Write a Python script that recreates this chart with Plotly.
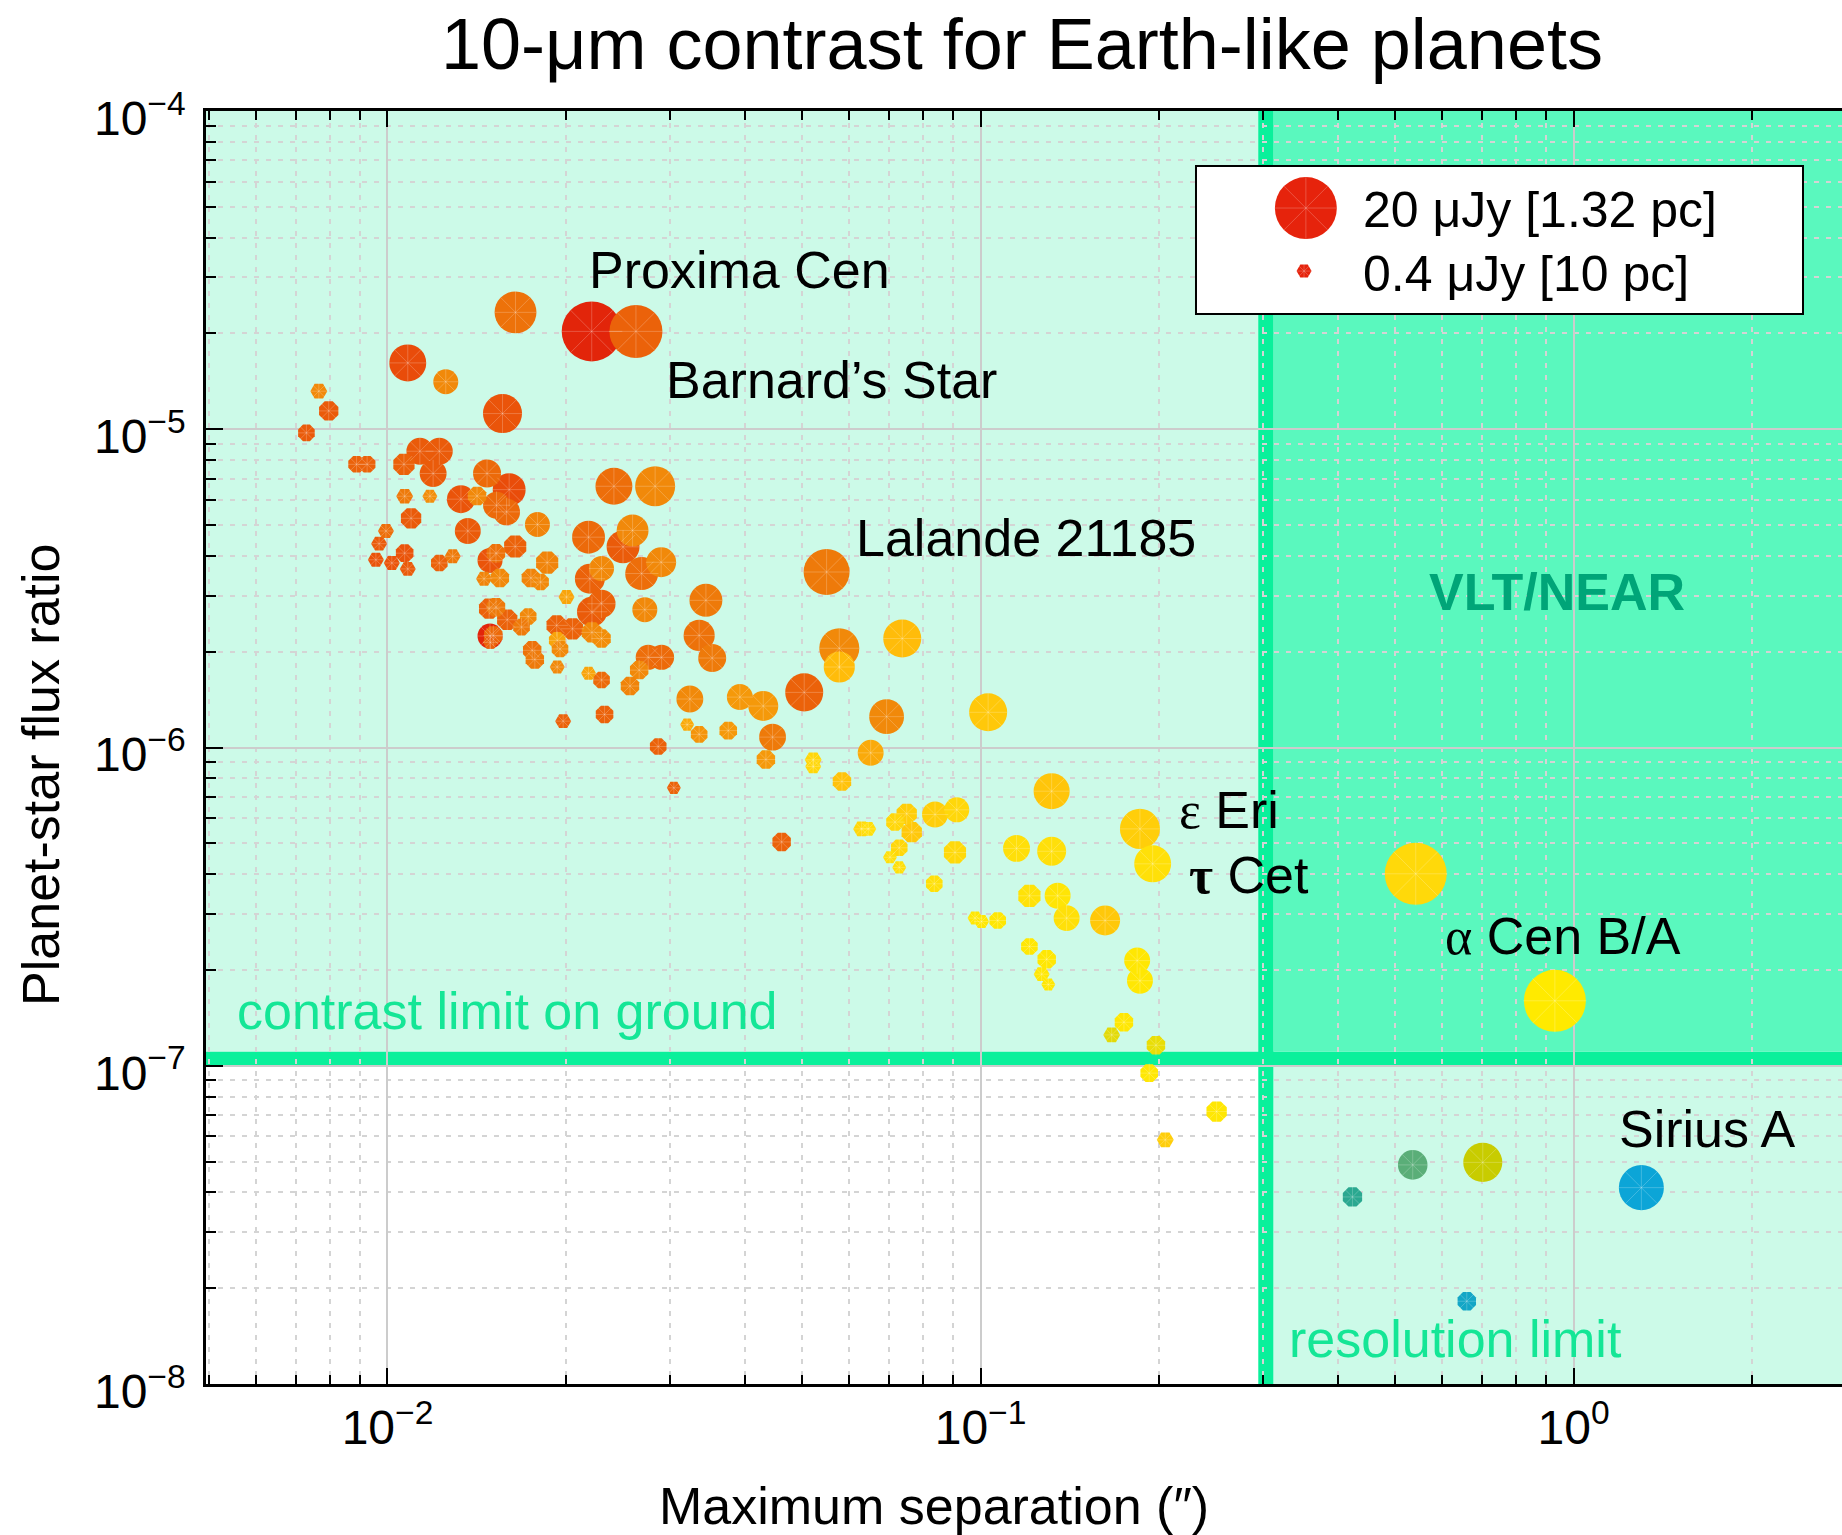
import numpy as np
import plotly.graph_objects as go

# ---------------------------------------------------------------------------
# Nearby stars: maximum separation of a habitable-zone Earth analogue (arcsec),
# planet/star flux ratio at 10 micron, planet flux density (microjansky) and
# stellar effective temperature (K, sets marker colour).
# ---------------------------------------------------------------------------
separation = [
    0.01644, 0.0221, 0.02624, 0.01082, 0.01254, 0.01563, 0.00766, 0.00796, 0.0073, 0.00887,
    0.00924, 0.01066, 0.01134, 0.01223, 0.01194, 0.01472, 0.01604, 0.01527, 0.01588, 0.0133,
    0.01416, 0.01069, 0.01179, 0.01096, 0.01366, 0.0179, 0.00994, 0.00968, 0.00956, 0.01017,
    0.01069, 0.01082, 0.01223, 0.01288, 0.01642, 0.01489, 0.01524, 0.01455, 0.01547, 0.01859,
    0.01745, 0.01812, 0.02004, 0.02183, 0.02496, 0.0259, 0.02409, 0.02827, 0.02894, 0.02683,
    0.02194, 0.02296, 0.02212, 0.02296, 0.01929, 0.02051, 0.02212, 0.02296, 0.01489, 0.01508,
    0.01484, 0.01524, 0.01592, 0.01683, 0.01727, 0.01491, 0.01754, 0.01772, 0.01933, 0.01954,
    0.01933, 0.02183, 0.02296, 0.02564, 0.02657, 0.02752, 0.02899, 0.01978, 0.02323, 0.05501,
    0.03443, 0.03354, 0.03528, 0.05779, 0.05779, 0.07379, 0.05043, 0.03235, 0.03928, 0.04302,
    0.06944, 0.1030, 0.03201, 0.03354, 0.03755, 0.02861, 0.0446, 0.04346, 0.06528, 0.05222,
    0.05222, 0.05839, 0.0304, 0.1318, 0.07508, 0.07174, 0.07656, 0.08381, 0.09119, 0.06302,
    0.06466, 0.0462, 0.07293, 0.07035, 0.07293, 0.09056, 0.1150, 0.1318, 0.08356, 0.1209,
    0.1349, 0.1397, 0.0979, 0.1004, 0.1069, 0.1209, 0.1293, 0.1268, 0.1301, 0.1857,
    0.1951, 0.1622, 0.1837, 0.1857, 0.1745, 0.1664, 0.1976, 0.1925, 0.2501, 0.2049,
    0.5418, 0.930, 0.4238, 0.5355, 0.7029, 1.301, 0.6606, 0.02716,
]
flux_ratio = [
    2.33e-5, 2.03e-5, 2.03e-5, 1.616e-5, 1.41e-5, 1.12e-5, 1.317e-5, 1.142e-5, 9.74e-6, 7.76e-6,
    7.76e-6, 7.76e-6, 8.53e-6, 8.53e-6, 7.26e-6, 7.26e-6, 6.46e-6, 5.77e-6, 5.5e-6, 6.03e-6,
    6.17e-6, 6.16e-6, 6.16e-6, 5.25e-6, 4.79e-6, 5.02e-6, 4.79e-6, 4.37e-6, 3.89e-6, 3.80e-6,
    4.08e-6, 3.64e-6, 3.80e-6, 3.99e-6, 4.28e-6, 3.87e-6, 4.08e-6, 3.39e-6, 3.41e-6, 3.81e-6,
    3.41e-6, 3.31e-6, 2.97e-6, 4.58e-6, 4.27e-6, 4.81e-6, 6.62e-6, 6.62e-6, 3.82e-6, 3.52e-6,
    3.39e-6, 3.65e-6, 2.67e-6, 2.83e-6, 2.42e-6, 2.36e-6, 2.30e-6, 2.20e-6, 2.24e-6, 2.25e-6,
    2.73e-6, 2.76e-6, 2.52e-6, 2.39e-6, 2.58e-6, 2.14e-6, 2.02e-6, 1.89e-6, 2.17e-6, 2.04e-6,
    1.79e-6, 1.71e-6, 1.63e-6, 1.56e-6, 1.75e-6, 1.92e-6, 1.92e-6, 1.21e-6, 1.27e-6, 3.56e-6,
    2.90e-6, 2.25e-6, 1.91e-6, 2.05e-6, 1.79e-6, 2.20e-6, 1.49e-6, 1.42e-6, 1.44e-6, 1.35e-6,
    1.25e-6, 1.29e-6, 1.18e-6, 1.10e-6, 1.13e-6, 1.007e-6, 1.078e-6, 9.17e-7, 9.62e-7, 9.15e-7,
    8.72e-7, 7.82e-7, 7.47e-7, 7.29e-7, 6.19e-7, 5.83e-7, 5.42e-7, 6.16e-7, 6.37e-7, 5.55e-7,
    5.55e-7, 5.05e-7, 4.84e-7, 4.52e-7, 4.20e-7, 4.68e-7, 4.82e-7, 4.72e-7, 3.73e-7, 3.42e-7,
    3.42e-7, 2.91e-7, 2.91e-7, 2.84e-7, 2.86e-7, 2.37e-7, 2.16e-7, 1.94e-7, 1.80e-7, 5.55e-7,
    4.31e-7, 2.86e-7, 2.14e-7, 1.85e-7, 1.37e-7, 1.25e-7, 1.16e-7, 9.48e-8, 7.18e-8, 5.85e-8,
    4.01e-7, 1.60e-7, 3.87e-8, 4.88e-8, 4.97e-8, 4.14e-8, 1.82e-8, 2.71e-6,
]
planet_flux = [
    6.8, 18.3, 13.0, 4.8, 1.64, 5.6, 0.56, 1.0, 0.66, 0.66,
    0.66, 1.3, 2.0, 2.0, 2.0, 2.24, 3.5, 2.0, 2.0, 2.24,
    0.88, 0.56, 0.4, 1.15, 1.82, 1.64, 0.48, 0.48, 0.48, 0.48,
    0.77, 0.48, 0.66, 0.48, 1.46, 1.64, 0.88, 0.48, 0.88, 1.46,
    0.88, 0.66, 0.48, 3.5, 3.5, 3.2, 4.8, 6.0, 2.7, 3.5,
    2.7, 1.64, 2.7, 2.24, 1.15, 1.3, 1.15, 0.88, 1.64, 0.88,
    1.15, 0.88, 1.15, 0.66, 0.66, 0.4, 0.88, 0.88, 0.66, 0.66,
    0.4, 0.4, 0.66, 0.88, 0.88, 1.64, 1.64, 0.48, 0.77, 8.8,
    3.5, 3.0, 2.24, 6.0, 3.0, 5.2, 5.2, 2.0, 1.82, 2.7,
    4.1, 5.2, 0.33, 0.66, 0.77, 0.66, 2.0, 0.88, 1.82, 0.56,
    0.48, 0.88, 0.33, 4.5, 1.15, 0.77, 1.15, 1.82, 1.64, 0.56,
    0.48, 0.88, 0.66, 0.33, 0.33, 1.46, 2.0, 2.46, 0.66, 1.46,
    1.82, 1.82, 0.4, 0.4, 0.66, 0.66, 0.88, 0.48, 0.33, 6.0,
    4.8, 2.7, 1.82, 1.82, 0.88, 0.56, 0.88, 0.77, 1.15, 0.56,
    20.0, 20.0, 1.0, 2.6, 5.6, 8.3, 0.88, 1.64,
]
t_eff = [
    3500, 2950, 3300, 3150, 3900, 3200, 3900, 3250, 3250, 3300,
    3300, 3300, 3250, 3250, 3250, 3400, 3150, 3400, 3400, 3200,
    3900, 3600, 4000, 3250, 3250, 3800, 3450, 3250, 3200, 3200,
    3200, 3250, 3300, 3600, 3300, 3200, 3500, 3800, 3900, 3800,
    3800, 3900, 4400, 3400, 3250, 3900, 3450, 3900, 3900, 3450,
    3300, 3900, 3250, 3300, 3300, 3300, 3900, 4000, 2950, 3400,
    3300, 3600, 3300, 3600, 3900, 3300, 3500, 3600, 4400, 3900,
    3900, 4400, 3400, 3800, 3900, 3450, 3400, 3300, 3300, 3600,
    3600, 3500, 3600, 3900, 4800, 4800, 3300, 3900, 4200, 4200,
    3900, 5000, 4500, 4100, 4200, 3300, 3600, 4200, 4500, 5250,
    5250, 4900, 3300, 4950, 5100, 5250, 5000, 5100, 5250, 5250,
    5400, 3300, 5250, 5400, 5400, 5300, 5400, 5400, 5450, 5500,
    5600, 5450, 5700, 5700, 5700, 5700, 5700, 5700, 5700, 5100,
    5450, 5000, 5700, 5700, 5700, 6200, 6100, 5700, 5700, 5100,
    5300, 5800, 8600, 7700, 6600, 9900, 9600, 3900,
]

# Named stars and the position of their labels
star_labels = ["Proxima Cen", "Barnard\u2019s Star", "Lalande 21185",
               "<span style=\"font-family:'Liberation Serif'\">\u03b5</span> Eri",
               "<span style=\"font-family:'Liberation Serif'\"><b>\u03c4</b></span> Cet",
               "<span style=\"font-family:'Liberation Serif'\">\u03b1</span> Cen B/A",
               "Sirius A"]
label_sep = [0.02173, 0.02924, 0.06116, 0.2141, 0.2231, 0.6029, 1.1835]
label_ratio = [3.165e-5, 1.432e-5, 4.54e-6, 6.365e-7, 3.963e-7, 2.556e-7, 6.33e-8]

# Instrument limits
contrast_limit = 1.0e-7       # ground-based 10-micron contrast floor
resolution_limit = 0.294      # inner working angle (arcsec)

# Legend entries
legend_flux = [20.0, 0.4]
legend_text = ["20 \u03bcJy [1.32 pc]", "0.4 \u03bcJy [10 pc]"]

# Axis ticks
x_ticks = [0.01, 0.1, 1.0]
x_ticktext = ["10<sup>\u22122</sup>", "10<sup>\u22121</sup>", "10<sup>0</sup>"]
y_ticks = [1e-8, 1e-7, 1e-6, 1e-5, 1e-4]
y_ticktext = ["10<sup>\u22128</sup>", "10<sup>\u22127</sup>", "10<sup>\u22126</sup>",
              "10<sup>\u22125</sup>", "10<sup>\u22124</sup>"]

# ---------------------------------------------------------------------------
FONT = "Liberation Sans"
MINT_LIGHT = "#CCFAE8"
MINT_DARK = "#5AF8BE"
LIMIT_GREEN = "#0AF09B"
LABEL_GREEN = "#14E696"
VLT_GREEN = "#00A578"
SPOKE = "rgba(255,255,255,0.28)"

T_MIN, T_MAX = 2900.0, 10000.0
temp_stops = [(2900, "#E01A0A"), (3100, "#E8450A"), (3300, "#EB620A"), (3600, "#EE7A0A"),
              (4000, "#F28E0A"), (4400, "#F8A40A"), (4800, "#FFBC0A"), (5100, "#FFCE0A"),
              (5400, "#FFDF0A"), (5800, "#FFEA00"), (6200, "#E2DA08"), (6600, "#C8CC00"),
              (7700, "#5AAE78"), (8600, "#2AA890"), (10000, "#0AA5DC")]
colorscale = [[(t - T_MIN) / (T_MAX - T_MIN), c] for t, c in temp_stops]


def marker_diameter(flux):
    """Marker diameter (px) scaling with planet flux density."""
    return 15.0 * (np.asarray(flux, dtype=float) / 0.4) ** 0.3627


def marker_symbol(d):
    return ["hexagon2" if v < 17 else ("octagon" if v < 24 else "circle") for v in d]


order = np.argsort(-np.asarray(planet_flux))
sep = np.asarray(separation)[order]
rat = np.asarray(flux_ratio)[order]
flx = np.asarray(planet_flux)[order]
tef = np.asarray(t_eff)[order]
diam = marker_diameter(flx)

fig = go.Figure()

fig.add_trace(go.Scatter(
    x=sep, y=rat, mode="markers", showlegend=False, hoverinfo="skip",
    marker=dict(size=diam, symbol=marker_symbol(diam), color=tef, colorscale=colorscale,
                cmin=T_MIN, cmax=T_MAX, opacity=1, line=dict(width=0)),
))
# faint spokes on each star marker
fig.add_trace(go.Scatter(
    x=sep, y=rat, mode="markers", showlegend=False, hoverinfo="skip",
    marker=dict(size=diam * 0.85, symbol="asterisk-open", color=SPOKE, opacity=1,
                line=dict(width=0.8, color=SPOKE)),
))
# carrier for the mirrored top axis
fig.add_trace(go.Scatter(x=[0.1], y=[1e-6], xaxis="x2", yaxis="y", mode="markers",
                         marker=dict(opacity=0), showlegend=False, hoverinfo="skip"))

# legend symbols
leg_d = marker_diameter(legend_flux)
fig.add_trace(go.Scatter(
    x=[0.181, 0.178], y=[0.716, 0.29], xaxis="x3", yaxis="y3", mode="markers",
    showlegend=False, hoverinfo="skip", cliponaxis=False,
    marker=dict(size=leg_d, symbol=["circle", "hexagon2"], color="#E6230C", opacity=1,
                line=dict(width=0)),
))
fig.add_trace(go.Scatter(
    x=[0.181, 0.178], y=[0.716, 0.29], xaxis="x3", yaxis="y3", mode="markers",
    showlegend=False, hoverinfo="skip", cliponaxis=False,
    marker=dict(size=leg_d * 0.85, symbol="asterisk-open", color=SPOKE, opacity=1,
                line=dict(width=0.8, color=SPOKE)),
))

# shaded regions and limit lines
VLT_X0 = 0.312
BAND_TOP = contrast_limit * 10 ** 0.044
shapes = [
    dict(type="rect", xref="paper", yref="y", x0=0, x1=1, y0=BAND_TOP, y1=1e-4,
         fillcolor=MINT_LIGHT, line=dict(width=0), layer="below"),
    dict(type="rect", xref="x", yref="y", x0=VLT_X0, x1=100, y0=1e-10, y1=contrast_limit,
         fillcolor=MINT_LIGHT, line=dict(width=0), layer="below"),
    dict(type="rect", xref="x", yref="y", x0=VLT_X0, x1=100, y0=BAND_TOP, y1=1e-3,
         fillcolor=MINT_DARK, line=dict(width=0), layer="below"),
    dict(type="rect", xref="paper", yref="y", x0=0, x1=1, y0=contrast_limit, y1=BAND_TOP,
         fillcolor=LIMIT_GREEN, line=dict(width=0), layer="below"),
    dict(type="rect", xref="x", yref="paper", x0=resolution_limit, x1=VLT_X0, y0=0, y1=1,
         fillcolor=LIMIT_GREEN, line=dict(width=0), layer="below"),
    # legend frame
    dict(type="rect", xref="paper", yref="paper", x0=0.60513, x1=0.97616, y0=0.84053, y1=0.95679,
         fillcolor="rgba(0,0,0,0)", line=dict(width=2, color="black"), layer="above"),
]

annotations = []
for txt, sx, sy in zip(star_labels, label_sep, label_ratio):
    annotations.append(dict(x=np.log10(sx), y=np.log10(sy), xref="x", yref="y", text=txt,
                            showarrow=False, xanchor="left", yanchor="middle",
                            font=dict(size=52, color="black")))
annotations += [
    dict(x=np.log10(0.005529), y=np.log10(1.485e-7), xref="x", yref="y",
         text="contrast limit on ground", showarrow=False, xanchor="left", yanchor="middle",
         font=dict(size=52, color=LABEL_GREEN)),
    dict(x=np.log10(0.3287), y=np.log10(1.384e-8), xref="x", yref="y",
         text="resolution limit", showarrow=False, xanchor="left", yanchor="middle",
         font=dict(size=52, color=LABEL_GREEN)),
    dict(x=np.log10(0.9375), y=np.log10(3.085e-6), xref="x", yref="y",
         text="<b>VLT/NEAR</b>", showarrow=False, xanchor="center", yanchor="middle",
         font=dict(size=52, color=VLT_GREEN)),
    # legend text
    dict(x=0.2712, y=0.70, xref="x3", yref="y3", text=legend_text[0], showarrow=False,
         xanchor="left", yanchor="middle", font=dict(size=50, color="black")),
    dict(x=0.2712, y=0.2716, xref="x3", yref="y3", text=legend_text[1], showarrow=False,
         xanchor="left", yanchor="middle", font=dict(size=50, color="black")),
    # title and axis titles
    dict(x=0.4988, y=1.053, xref="paper", yref="paper",
         text="10-\u03bcm contrast for Earth-like planets", showarrow=False,
         xanchor="center", yanchor="middle", font=dict(size=72, color="black")),
    dict(x=0.445, y=-0.0958, xref="paper", yref="paper",
         text="Maximum separation (\u2033)", showarrow=False,
         xanchor="center", yanchor="middle", font=dict(size=52, color="black")),
    dict(x=-0.1009, y=0.4784, xref="paper", yref="paper", textangle=-90,
         text="Planet-star flux ratio", showarrow=False,
         xanchor="center", yanchor="middle", font=dict(size=52, color="black")),
]

minor_x = [m * 10.0 ** e for e in (-3, -2, -1, 0) for m in range(2, 10)]
minor_y = [m * 10.0 ** e for e in range(-8, -4) for m in range(2, 10)]

X_RANGE = [-2.306, 0.4526]
GRID = "#CCCCCC"
MINOR_GRID = "#D4D4D4"

common_axis = dict(type="log", ticks="inside", tickcolor="black", tickwidth=2,
                   showline=True, linecolor="black", linewidth=2.5, zeroline=False)
hidden_axis = dict(range=[0, 1], showgrid=False, showline=False, zeroline=False,
                   showticklabels=False, ticks="", fixedrange=True)

fig.update_layout(
    width=1842, height=1535,
    margin=dict(l=206, r=0, t=111, b=151),
    paper_bgcolor="white", plot_bgcolor="white",
    font=dict(family=FONT, color="black"),
    shapes=shapes, annotations=annotations,
    xaxis=dict(**common_axis, range=X_RANGE, tickmode="array", tickvals=x_ticks,
               ticktext=x_ticktext, ticklen=16, tickfont=dict(size=48),
               showgrid=True, gridcolor=GRID, gridwidth=1.5,
               minor=dict(tickmode="array", tickvals=minor_x, ticks="inside", ticklen=9,
                          tickwidth=2, tickcolor="black", showgrid=True,
                          gridcolor=MINOR_GRID, gridwidth=1.5, griddash="5px,7px")),
    xaxis2=dict(**common_axis, range=X_RANGE, overlaying="x", side="top", anchor="y",
                tickmode="array", tickvals=x_ticks, ticklen=16, showticklabels=False,
                showgrid=False,
                minor=dict(tickmode="array", tickvals=minor_x, ticks="inside", ticklen=9,
                           tickwidth=2, tickcolor="black", showgrid=False)),
    yaxis=dict(**common_axis, range=[-8, -4], tickmode="array", tickvals=y_ticks,
               ticktext=y_ticktext, ticklen=17, tickfont=dict(size=48),
               ticklabelstandoff=8, ticklabelshift=7,
               showgrid=True, gridcolor=GRID, gridwidth=1.5,
               minor=dict(tickmode="array", tickvals=minor_y, ticks="inside", ticklen=10,
                          tickwidth=2, tickcolor="black", showgrid=True,
                          gridcolor=MINOR_GRID, gridwidth=1.5, griddash="5px,7px")),
    xaxis3=dict(domain=[0.60513, 0.97616], anchor="y3", **hidden_axis),
    yaxis3=dict(domain=[0.84053, 0.95679], anchor="x3", **hidden_axis),
)

fig.write_html("out.html")
